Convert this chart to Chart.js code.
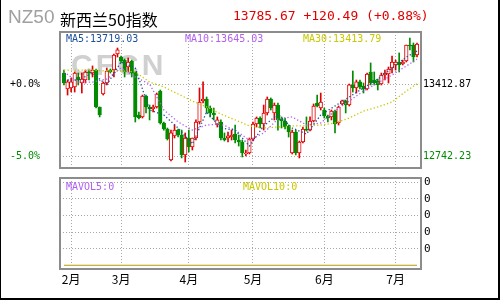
<!DOCTYPE html>
<html>
<head>
<meta charset="utf-8">
<script src="https://cdn.jsdelivr.net/npm/chart.js@4.4.1/dist/chart.umd.min.js"></script>
<style>
  body { margin: 0; width: 500px; height: 300px; background: #fff; overflow: hidden; position: relative; }
  #frame { position: absolute; left: 0; top: 0; width: 500px; height: 300px; box-sizing: border-box;
           border-left: 1px solid #000; border-right: 2px solid #000; border-bottom: 2px solid #000; pointer-events: none; }
  .t { position: absolute; white-space: nowrap; line-height: 1; }
  .mono { font-family: "DejaVu Sans Mono", monospace; font-size: 10px; }
  #mainBox { position: absolute; left: 0; top: 0; width: 500px; height: 175px; }
  #volBox { position: absolute; left: 0; top: 175px; width: 500px; height: 125px; }
</style>
</head>
<body>
<div id="mainBox"><canvas id="mainChart"></canvas></div>
<div id="volBox"><canvas id="volChart"></canvas></div>

<div class="t" style="left:8px;top:6px;font:19px 'Liberation Sans',sans-serif;color:#a0a0a0;">NZ50</div>
<div class="t" style="left:60px;top:7px;font:16px 'Noto Sans CJK SC',sans-serif;color:#000;">新西兰50指数</div>
<div class="t" id="quote" style="left:233px;top:8px;font:13px 'DejaVu Sans Mono',monospace;color:#e10000;"></div>
<div class="t mono" id="ma5Label" style="left:66px;top:34px;color:#1c4f9c;"></div>
<div class="t mono" id="ma10Label" style="left:185px;top:34px;color:#b060f0;"></div>
<div class="t mono" id="ma30Label" style="left:303px;top:34px;color:#c8c800;"></div>
<div class="t mono" id="vol5Label" style="left:66px;top:182px;color:#b060f0;"></div>
<div class="t mono" id="vol10Label" style="left:243px;top:182px;color:#c8c800;"></div>
<div id="frame"></div>

<script>
// daily candles, Feb - Jul
const open = [13515,13366,13376,13385,13478,13422,13450,13525,13515,13543,
  13199,13320,13422,13543,13543,13692,13664,13636,13571,13627,
  13525,13124,13106,13301,13199,13180,13199,13348,13050,12994,
  12705,12929,12984,12938,12752,12910,12826,12910,13059,13255,
  13273,13189,13143,13031,13059,12910,12910,12919,12947,12891,
  12873,12761,12770,12901,13040,13096,13040,13143,13273,13143,
  13217,13087,13068,13022,12770,12966,12770,12873,12994,12984,
  13068,13236,13189,13171,13115,13106,13161,13050,13227,13255,
  13217,13404,13376,13432,13394,13366,13525,13450,13441,13413,
  13497,13506,13562,13590,13618,13599,13627,13776,13776,13683];
const high = [13543,13450,13469,13525,13515,13515,13543,13543,13581,13553,
  13199,13432,13562,13553,13692,13748,13674,13646,13655,13636,
  13525,13152,13310,13310,13217,13217,13329,13357,13059,13003,
  12984,13031,12994,12984,12957,12984,12910,13078,13376,13432,
  13292,13208,13189,13106,13078,12957,12966,12984,13031,12938,
  12891,12798,12910,13059,13106,13106,13217,13292,13283,13236,
  13236,13106,13096,13031,12984,12984,12882,13012,13106,13106,
  13227,13310,13329,13189,13124,13171,13171,13208,13264,13264,
  13413,13534,13450,13450,13422,13515,13609,13525,13459,13515,
  13543,13571,13674,13636,13702,13636,13776,13841,13795,13795];
const low = [13404,13310,13338,13338,13404,13329,13422,13450,13478,13189,
  13106,13310,13404,13515,13478,13664,13609,13478,13525,13478,
  13059,13087,13096,13143,13078,13152,13189,13040,12984,12891,
  12696,12910,12919,12724,12686,12780,12798,12891,13040,13236,
  13143,13106,13078,13012,12891,12882,12873,12891,12863,12835,
  12733,12742,12761,12882,13012,13003,12984,13124,13171,13078,
  12984,13003,12994,12919,12761,12752,12724,12863,12975,12975,
  13059,13199,13171,13096,13059,13078,12957,13031,13217,13143,
  13208,13338,13329,13366,13329,13357,13404,13404,13357,13404,
  13450,13422,13515,13543,13525,13590,13618,13730,13618,13664];
const close = [13422,13432,13432,13515,13450,13459,13525,13515,13543,13199,
  13124,13422,13534,13525,13683,13730,13627,13525,13618,13515,
  13106,13096,13301,13199,13180,13199,13320,13050,12994,12901,
  12957,12984,12938,12752,12910,12826,12910,13059,13245,13273,
  13189,13143,13124,13078,12910,12891,12929,12938,12891,12873,
  12770,12770,12901,13040,13096,13040,13143,13273,13189,13217,
  13078,13068,13012,12966,12966,12770,12873,12994,12984,13068,
  13208,13208,13245,13115,13096,13161,13040,13199,13255,13217,
  13404,13376,13432,13385,13366,13506,13422,13422,13404,13497,
  13515,13553,13618,13618,13590,13618,13776,13767,13665.18,13785.67];

// moving averages at every 4th day
const maIdx = [0,4,8,12,16,20,24,28,32,36,40,44,48,52,56,60,64,68,72,76,80,84,88,92,96,99];
const ma5 = [13450,13450,13515,13404,13618,13562,13171,13124,13003,12854,13152,13003,12984,12835,13022,13133,13003,12947,13124,13208,13292,13376,13459,13562,13664,13719.03];
const ma10 = [13525,13431,13431,13459,13562,13478,13413,13171,13059,12984,13031,13040,12984,12891,12957,13087,13106,13031,13050,13161,13255,13348,13422,13497,13580,13645.03];
const ma30 = [13543,13543,13543,13534,13534,13525,13431,13385,13320,13254,13199,13133,13078,13022,13003,13012,13022,13022,13031,13050,13096,13161,13199,13245,13348,13413.79];

// volume pane (no volume data, averages sit at 0)
const volIdx = [0, 99];
const mavol5 = [0, 0];
const mavol10 = [0, 0];

const priceTicks = [13412.87, 12742.23];
const pctLabels = ['+0.0%', '-5.0%'];
const priceLabels = ['13412.87', '12742.23'];
const monthIdx = [2, 16, 35, 53, 73, 93];
const monthLabels = ['2月', '3月', '4月', '5月', '6月', '7月'];
const volTicks = [1, 2, 3, 4, 5];
const volTickLabels = ['0', '0', '0', '0', '0'];

const RED = '#e00000';
const GREEN = '#008c00';
const GRID = '#a8a8a8';
const monoFont = { family: '"DejaVu Sans Mono", monospace', size: 10 };

const days = open.map((_, i) => i);
const isUp = i => close[i] >= open[i];

// header texts
const last = close[close.length - 1];
const prev = close[close.length - 2];
const chg = last - prev;
document.getElementById('quote').textContent =
  last.toFixed(2) + ' ' + (chg >= 0 ? '+' : '') + chg.toFixed(2) +
  ' (' + (chg >= 0 ? '+' : '') + (chg / prev * 100).toFixed(2) + '%)';
document.getElementById('ma5Label').textContent = 'MA5:' + ma5[ma5.length - 1].toFixed(2);
document.getElementById('ma10Label').textContent = 'MA10:' + ma10[ma10.length - 1].toFixed(2);
document.getElementById('ma30Label').textContent = 'MA30:' + ma30[ma30.length - 1].toFixed(2);
document.getElementById('vol5Label').textContent = 'MAVOL5:' + mavol5[mavol5.length - 1];
document.getElementById('vol10Label').textContent = 'MAVOL10:' + mavol10[mavol10.length - 1];

const xMin = -1.12, xMax = 100.12;
const yMin = 12630.5, yMax = 13897.2;

// gray frame round the plot area, watermark behind the candles
const panelFrame = {
  id: 'panelFrame',
  beforeDatasetsDraw(chart, args, opts) {
    if (!opts.mark) return;
    const a = chart.chartArea, ctx = chart.ctx;
    ctx.save();
    ctx.font = 'bold 30px "Liberation Sans", sans-serif';
    ctx.letterSpacing = '3px';
    ctx.fillStyle = '#d0d0d0';
    ctx.fillText(opts.mark, a.left + 11, a.top + 43);
    ctx.restore();
  },
  afterDraw(chart) {
    const a = chart.chartArea, ctx = chart.ctx;
    ctx.save();
    ctx.strokeStyle = '#8c8c8c';
    ctx.lineWidth = 2;
    ctx.strokeRect(a.left, a.top, a.right - a.left, a.bottom - a.top);
    ctx.restore();
  }
};

const noPad = s => { s.paddingTop = 0; s.paddingBottom = 0; s.paddingLeft = 0; s.paddingRight = 0; };

const maLine = (label, vals, color) => ({
  type: 'line',
  label,
  data: maIdx.map((x, i) => ({ x, y: vals[i] })),
  borderColor: color,
  borderWidth: 1.3,
  borderDash: [1.3, 2.2],
  pointRadius: 0,
  tension: 0,
  order: 0
});

new Chart(document.getElementById('mainChart'), {
  type: 'bar',
  data: {
    datasets: [
      maLine('MA5', ma5, '#1c4f9c'),
      maLine('MA10', ma10, '#b060f0'),
      maLine('MA30', ma30, '#c8c800'),
      {
        label: 'body',
        data: days.map(i => ({ x: i, y: [open[i], close[i]] })),
        backgroundColor: days.map(i => isUp(i) ? '#fff' : GREEN),
        borderColor: days.map(i => isUp(i) ? RED : GREEN),
        borderWidth: 1,
        borderSkipped: false,
        barThickness: 3.6,
        minBarLength: 1,
        grouped: false,
        order: 1
      },
      {
        label: 'wick',
        data: days.map(i => ({ x: i, y: [low[i], high[i]] })),
        backgroundColor: days.map(i => isUp(i) ? RED : GREEN),
        barThickness: 1,
        grouped: false,
        order: 2
      }
    ]
  },
  options: {
    responsive: true,
    maintainAspectRatio: false,
    animation: false,
    devicePixelRatio: 1,
    events: [],
    layout: { padding: { left: 10, right: 0, top: 32, bottom: 7 } },
    plugins: { legend: { display: false }, tooltip: { enabled: false }, panelFrame: { mark: 'CFCN' } },
    scales: {
      x: {
        type: 'linear', min: xMin, max: xMax, offset: false,
        afterBuildTicks: s => { s.ticks = monthIdx.map(v => ({ value: v })); },
        afterFit: s => { s.height = 0; noPad(s); },
        ticks: { display: false },
        grid: { color: GRID, drawTicks: false, offset: false },
        border: { display: false, dash: [1, 2] }
      },
      y: {
        position: 'left', min: yMin, max: yMax,
        afterBuildTicks: s => { s.ticks = priceTicks.map(v => ({ value: v })); },
        afterFit: s => { s.width = 50; noPad(s); },
        ticks: {
          crossAlign: 'far', padding: 0, autoSkip: false, font: monoFont,
          callback: (v, i) => pctLabels[i],
          color: c => c.index === 0 ? '#000' : GREEN
        },
        grid: { color: GRID, drawTicks: false },
        border: { display: false, dash: [1, 2] }
      },
      y2: {
        position: 'right', min: yMin, max: yMax,
        afterBuildTicks: s => { s.ticks = priceTicks.map(v => ({ value: v })); },
        afterFit: s => { s.width = 79; noPad(s); },
        ticks: {
          padding: 2, autoSkip: false, font: monoFont,
          callback: (v, i) => priceLabels[i],
          color: c => c.index === 0 ? '#000' : GREEN
        },
        grid: { display: false, drawTicks: false },
        border: { display: false }
      }
    }
  },
  plugins: [panelFrame]
});

new Chart(document.getElementById('volChart'), {
  type: 'line',
  data: {
    datasets: [
      { label: 'MAVOL10', data: volIdx.map((x, i) => ({ x, y: mavol10[i] })), borderColor: '#c8c800', borderWidth: 1, pointRadius: 0, order: 0 },
      { label: 'MAVOL5', data: volIdx.map((x, i) => ({ x, y: mavol5[i] })), borderColor: '#b060f0', borderWidth: 1, pointRadius: 0, order: 1 }
    ]
  },
  options: {
    responsive: true,
    maintainAspectRatio: false,
    animation: false,
    devicePixelRatio: 1,
    events: [],
    layout: { padding: { left: 60, right: 0, top: 3, bottom: 0 } },
    plugins: { legend: { display: false }, tooltip: { enabled: false }, panelFrame: {} },
    scales: {
      x: {
        type: 'linear', min: xMin, max: xMax,
        afterBuildTicks: s => { s.ticks = monthIdx.map(v => ({ value: v })); },
        afterFit: s => { s.height = 31; noPad(s); },
        ticks: {
          maxRotation: 0, autoSkip: false, padding: 3, color: '#000',
          font: { family: '"Noto Sans CJK SC", sans-serif', size: 12 },
          callback: (v, i) => monthLabels[i]
        },
        grid: { color: GRID, drawTicks: false },
        border: { display: false, dash: [1, 2] }
      },
      y: {
        position: 'right', min: -0.22, max: 5.26,
        afterBuildTicks: s => { s.ticks = volTicks.map(v => ({ value: v })); },
        afterFit: s => { s.width = 79; noPad(s); },
        ticks: {
          padding: 3, autoSkip: false, color: '#000',
          font: { family: '"DejaVu Sans Mono", monospace', size: 11 },
          callback: (v, i) => volTickLabels[i]
        },
        grid: { color: GRID, drawTicks: false },
        border: { display: false, dash: [1, 2] }
      }
    }
  },
  plugins: [panelFrame]
});
</script>
</body>
</html>
